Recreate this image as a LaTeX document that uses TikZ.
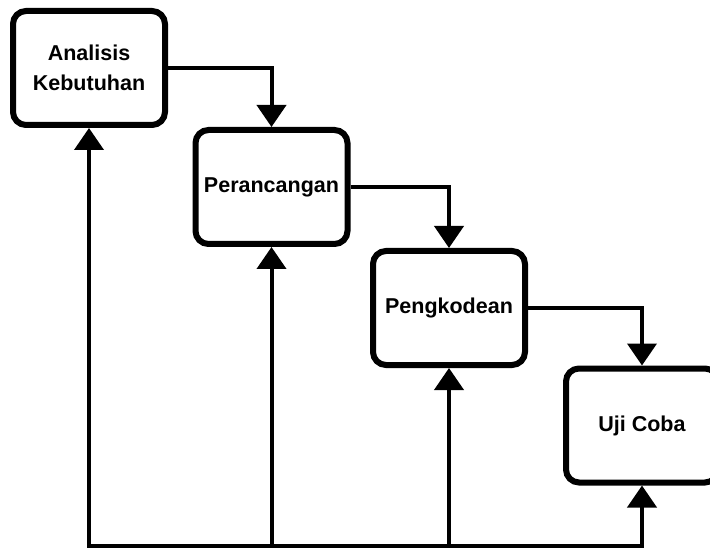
\documentclass[tikz,border=0pt]{standalone}
\usepackage{fontspec}
\setmainfont{Liberation Sans}
\usetikzlibrary{arrows.meta}

\tikzset{
    tahap/.style={draw, line width=6pt, rounded corners=13pt, fill=white,
        minimum width=152pt, minimum height=114pt, align=center,
        font=\bfseries\fontsize{21.5pt}{30pt}\selectfont},
    alur/.style={line width=4pt, -{Triangle[length=22pt,width=29pt]}},
    balik/.style={line width=4pt, {Triangle[length=22pt,width=29pt]}-{Triangle[length=22pt,width=29pt]}}
}

\begin{document}
\begin{tikzpicture}[x=1pt,y=-1pt]
    \useasboundingbox (0,0) rectangle (710,548);
    \clip (0,0) rectangle (710,548);

    % tahapan
    \node [tahap, at={(89,68)}] (analisis) {Analisis\\Kebutuhan};
    \node [tahap, at={(271.5,187)}] (rancang) {Perancangan};
    \node [tahap, at={(449,308)}] (kode) {Pengkodean};
    \node [tahap, at={(642,425.5)}] (uji) {Uji Coba};

    % alur maju
    \draw [alur] (analisis.east) -| (rancang.north);
    \draw [alur] (rancang.east) -| (kode.north);
    \draw [alur] (kode.east) -| (uji.north);

    % alur balik
    \coordinate (dasar) at (0,546);
    \draw [balik] (analisis.south) |- (uji.south |- dasar) -- (uji.south);
    \draw [alur] (rancang.south |- dasar) -- (rancang.south);
    \draw [alur] (kode.south |- dasar) -- (kode.south);
\end{tikzpicture}
\end{document}
